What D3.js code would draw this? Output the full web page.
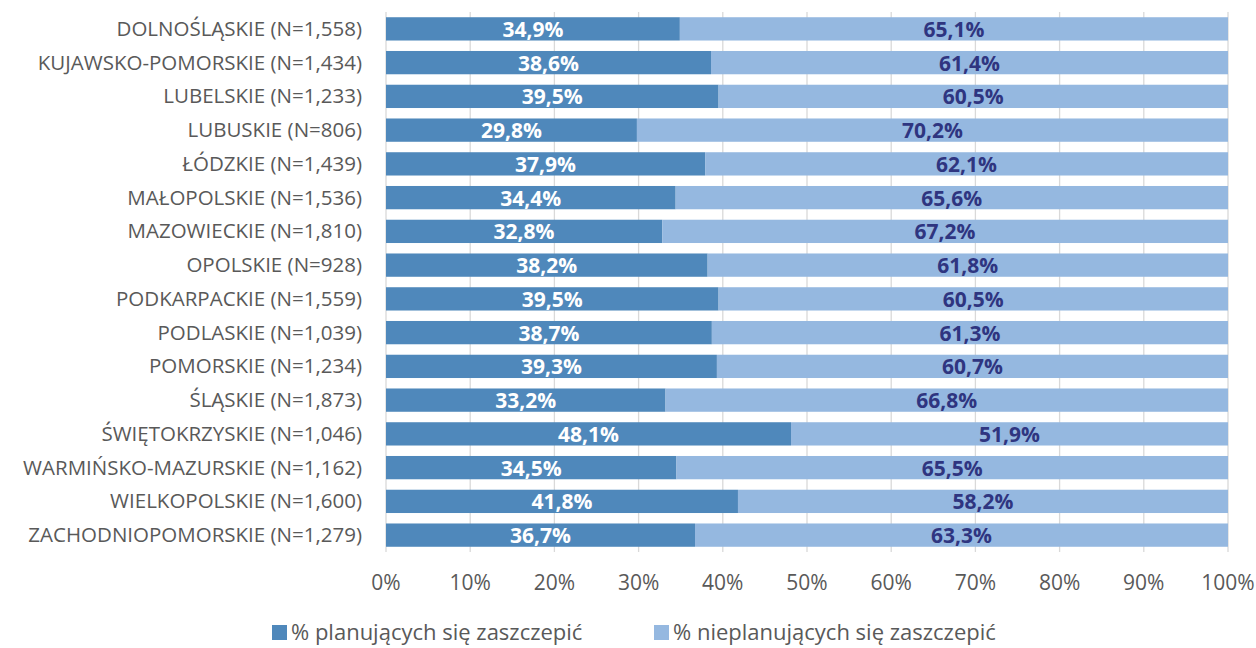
<!DOCTYPE html>
<html>
<head>
<meta charset="utf-8">
<script src="https://cdn.jsdelivr.net/npm/d3@7"></script>
<style>
  body { margin: 0; background: #fff; }
  svg text { font-family: "Open Sans", sans-serif; }
</style>
</head>
<body>
<div id="chart"></div>
<script>
  const regions = ['DOLNOŚLĄSKIE (N=1,558)', 'KUJAWSKO-POMORSKIE (N=1,434)', 'LUBELSKIE (N=1,233)', 'LUBUSKIE (N=806)',
    'ŁÓDZKIE (N=1,439)', 'MAŁOPOLSKIE (N=1,536)', 'MAZOWIECKIE (N=1,810)', 'OPOLSKIE (N=928)',
    'PODKARPACKIE (N=1,559)', 'PODLASKIE (N=1,039)', 'POMORSKIE (N=1,234)', 'ŚLĄSKIE (N=1,873)',
    'ŚWIĘTOKRZYSKIE (N=1,046)', 'WARMIŃSKO-MAZURSKIE (N=1,162)', 'WIELKOPOLSKIE (N=1,600)', 'ZACHODNIOPOMORSKIE (N=1,279)'];
  const planning = [34.9, 38.6, 39.5, 29.8, 37.9, 34.4, 32.8, 38.2, 39.5, 38.7, 39.3, 33.2, 48.1, 34.5, 41.8, 36.7];
  const notPlanning = [65.1, 61.4, 60.5, 70.2, 62.1, 65.6, 67.2, 61.8, 60.5, 61.3, 60.7, 66.8, 51.9, 65.5, 58.2, 63.3];
  const seriesNames = ['% planujących się zaszczepić', '% nieplanujących się zaszczepić'];
  const xTicks = [0, 10, 20, 30, 40, 50, 60, 70, 80, 90, 100];

  const colors = ['#4f88bb', '#95b8e0'];
  const labelColors = ['#ffffff', '#2f3580'];

  const W = 1256, H = 648;
  const margin = { top: 12, right: 28, bottom: 96, left: 386 };

  const svg = d3.select('#chart').append('svg')
      .attr('width', W)
      .attr('height', H);

  const x = d3.scaleLinear().domain([0, 100]).range([margin.left, W - margin.right]);
  const y = d3.scaleBand().domain(regions).range([margin.top, H - margin.bottom]).paddingInner(0.31).paddingOuter(0.155);

  // gridlines
  svg.append('g').selectAll('line')
      .data(xTicks)
      .enter().append('line')
        .attr('x1', d => x(d)).attr('x2', d => x(d))
        .attr('y1', margin.top).attr('y2', H - margin.bottom)
        .attr('stroke', '#d9d9d9')
        .attr('stroke-width', 1.3);

  // stacked data
  const rows = regions.map((r, i) => ({ region: r, vals: [planning[i], notPlanning[i]] }));

  const seg = svg.append('g').selectAll('g.row')
      .data(rows)
      .enter().append('g').attr('class', 'row');

  seg.each(function (d) {
    let start = 0;
    const g = d3.select(this);
    d.vals.forEach((v, k) => {
      g.append('rect')
        .attr('x', x(start))
        .attr('y', y(d.region))
        .attr('width', x(start + v) - x(start))
        .attr('height', y.bandwidth())
        .attr('fill', colors[k]);
      g.append('text')
        .attr('x', (x(start) + x(start + v)) / 2)
        .attr('y', y(d.region) + y.bandwidth() / 2 + 8)
        .attr('text-anchor', 'middle')
        .attr('fill', labelColors[k])
        .style('font-weight', 'bold')
        .style('font-size', '21px')
        .text(v.toFixed(1).replace('.', ',') + '%');
      start += v;
    });
  });

  // category labels
  svg.append('g').selectAll('text')
      .data(regions)
      .enter().append('text')
        .attr('x', margin.left - 24)
        .attr('y', d => y(d) + y.bandwidth() / 2 + 7)
        .attr('text-anchor', 'end')
        .attr('fill', '#595959')
        .style('font-size', '20.5px')
        .text(d => d);

  // x axis labels
  svg.append('g').selectAll('text')
      .data(xTicks)
      .enter().append('text')
        .attr('x', d => x(d))
        .attr('y', 590)
        .attr('text-anchor', 'middle')
        .attr('fill', '#595959')
        .style('font-size', '21px')
        .text(d => d + '%');

  // legend
  const legendX = [272, 654];
  const legend = svg.append('g').selectAll('g')
      .data(seriesNames)
      .enter().append('g')
        .attr('transform', (d, i) => 'translate(' + legendX[i] + ',0)');
  legend.append('rect')
      .attr('x', 0).attr('y', 625)
      .attr('width', 15).attr('height', 15)
      .attr('fill', (d, i) => colors[i]);
  legend.append('text')
      .attr('x', 19).attr('y', 640)
      .attr('fill', '#595959')
      .style('font-size', '22px')
      .text(d => d);
</script>
</body>
</html>
